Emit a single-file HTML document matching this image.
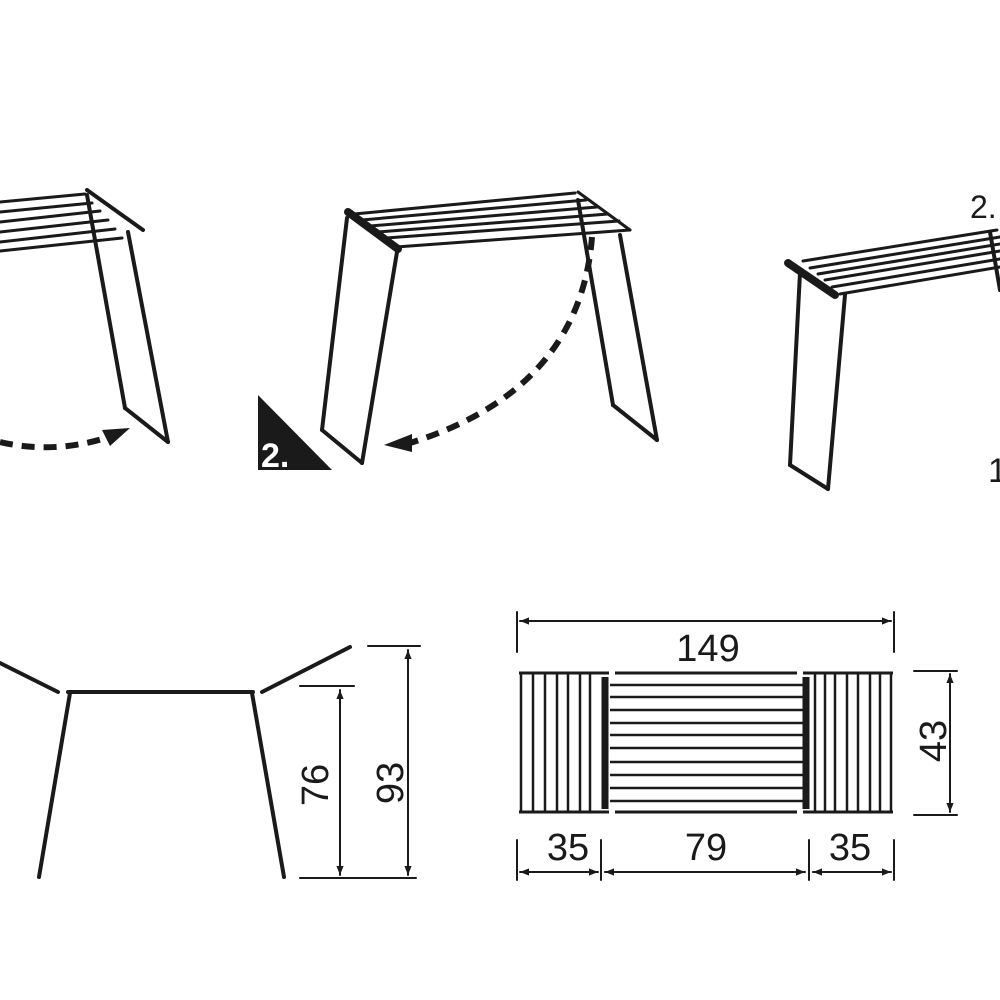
<!DOCTYPE html>
<html><head><meta charset="utf-8"><style>
html,body{margin:0;padding:0;background:#fff;}
svg{display:block;}
text{font-family:"Liberation Sans",sans-serif;fill:#1a1a1a;}
</style></head><body>
<svg width="1000" height="1000" viewBox="0 0 1000 1000" xmlns="http://www.w3.org/2000/svg">
<rect width="1000" height="1000" fill="#fff"/>
<defs>
<marker id="ah" viewBox="0 0 10 10" refX="10" refY="5" markerWidth="9" markerHeight="9" orient="auto-start-reverse" markerUnits="userSpaceOnUse"><path d="M0,1 L10,5 L0,9 Z" fill="#1a1a1a"/></marker>
</defs>
<g stroke="#1a1a1a" fill="none" stroke-linecap="round" stroke-linejoin="round">
<!-- Drawing 1 -->
<g stroke-width="3">
<line x1="0" y1="202" x2="85" y2="194"/>
<line x1="0" y1="212" x2="92" y2="203"/>
<line x1="0" y1="222" x2="100" y2="211"/>
<line x1="0" y1="232" x2="108" y2="220"/>
<line x1="0" y1="242" x2="115" y2="229"/>
<line x1="0" y1="251" x2="122" y2="238"/>
<line x1="87" y1="190" x2="143" y2="230" stroke-width="4"/>
<line x1="87" y1="195" x2="125" y2="408" stroke-width="4"/>
<line x1="125" y1="408" x2="168" y2="442" stroke-width="4"/>
<line x1="128" y1="232" x2="168" y2="442" stroke-width="4"/>
</g>
<path d="M0,442 Q55,455 112,436" stroke-width="6" stroke-dasharray="13,9" stroke-linecap="butt"/>
<polygon points="130,428 102,430 110,446" fill="#1a1a1a" stroke="none"/>
<!-- Drawing 2 -->
<g stroke-width="3">
<line x1="354" y1="214" x2="575" y2="193"/>
<line x1="362" y1="220" x2="586" y2="200"/>
<line x1="370" y1="226" x2="597" y2="207"/>
<line x1="378" y1="232" x2="608" y2="214"/>
<line x1="386" y1="238" x2="619" y2="221"/>
<line x1="396" y1="247" x2="630" y2="230"/>
<line x1="348" y1="212" x2="398" y2="249" stroke-width="8"/>
<line x1="578" y1="192" x2="630" y2="230" stroke-width="3"/>
<line x1="347" y1="218" x2="322" y2="430" stroke-width="4"/>
<line x1="322" y1="430" x2="362" y2="463" stroke-width="4"/>
<line x1="397" y1="252" x2="362" y2="463" stroke-width="4"/>
<line x1="578" y1="200" x2="613" y2="405" stroke-width="4"/>
<line x1="613" y1="405" x2="657" y2="440" stroke-width="4"/>
<line x1="620" y1="235" x2="657" y2="440" stroke-width="4"/>
</g>
<path d="M592,237 Q580,390 410,443" stroke-width="6" stroke-dasharray="13,9" stroke-linecap="butt"/>
<polygon points="384,445 412,434 412,452" fill="#1a1a1a" stroke="none"/>
<polygon points="258,395 258,470 332,470" fill="#1a1a1a" stroke="none"/>
<text x="261" y="467" font-size="34" font-weight="600" style="fill:#fff" stroke="none">2.</text>
<!-- Drawing 3 -->
<g stroke-width="3">
<line x1="803" y1="261" x2="997" y2="230"/>
<line x1="810" y1="268" x2="1000" y2="237"/>
<line x1="818" y1="274" x2="1000" y2="244"/>
<line x1="825" y1="280" x2="1000" y2="251"/>
<line x1="832" y1="287" x2="1000" y2="259"/>
<line x1="840" y1="294" x2="1000" y2="267"/>
<line x1="788" y1="263" x2="835" y2="295" stroke-width="8"/>
<line x1="800" y1="273" x2="790" y2="465" stroke-width="4"/>
<line x1="790" y1="465" x2="828" y2="489" stroke-width="4"/>
<line x1="845" y1="295" x2="828" y2="489" stroke-width="4"/>
<line x1="990" y1="232" x2="1000" y2="290" stroke-width="4"/>
</g>
<text x="970" y="218" font-size="32" stroke="none">2.</text>
<text x="988" y="482" font-size="34" stroke="none">1</text>
<!-- Bottom left side view -->
<g stroke-width="4">
<line x1="0" y1="663" x2="58" y2="692"/>
<line x1="68" y1="692" x2="253" y2="692"/>
<line x1="70" y1="693" x2="39" y2="877"/>
<line x1="252" y1="693" x2="284" y2="877"/>
<line x1="262" y1="692" x2="350" y2="647"/>
</g>
<g stroke-width="2">
<line x1="300" y1="686" x2="354" y2="686"/>
<line x1="368" y1="646" x2="420" y2="646"/>
<line x1="300" y1="878" x2="416" y2="878"/>
<line x1="340" y1="690" x2="340" y2="875" marker-start="url(#ah)" marker-end="url(#ah)"/>
<line x1="408" y1="650" x2="408" y2="875" marker-start="url(#ah)" marker-end="url(#ah)"/>
</g>
<!-- Bottom right top view -->
<g stroke-width="2">
<line x1="517" y1="612" x2="517" y2="652"/>
<line x1="894" y1="612" x2="894" y2="652"/>
<line x1="520" y1="621" x2="891" y2="621" marker-start="url(#ah)" marker-end="url(#ah)"/>
<line x1="914" y1="671" x2="957" y2="671"/>
<line x1="914" y1="815" x2="957" y2="815"/>
<line x1="950" y1="674" x2="950" y2="812" marker-start="url(#ah)" marker-end="url(#ah)"/>
<line x1="517" y1="840" x2="517" y2="880"/>
<line x1="601" y1="840" x2="601" y2="880"/>
<line x1="809" y1="840" x2="809" y2="880"/>
<line x1="894" y1="840" x2="894" y2="880"/>
<line x1="520" y1="872" x2="598" y2="872" marker-start="url(#ah)" marker-end="url(#ah)"/>
<line x1="605" y1="872" x2="805" y2="872" marker-start="url(#ah)" marker-end="url(#ah)"/>
<line x1="813" y1="872" x2="891" y2="872" marker-start="url(#ah)" marker-end="url(#ah)"/>
</g>
<g stroke-width="3" stroke-linecap="butt">
<line x1="519" y1="673" x2="609" y2="673"/>
<line x1="519" y1="812" x2="609" y2="812"/>
<line x1="615" y1="673" x2="797" y2="673"/>
<line x1="615" y1="812" x2="797" y2="812"/>
<line x1="803" y1="673" x2="893" y2="673"/>
<line x1="803" y1="812" x2="893" y2="812"/>
<g stroke-width="2.5">
<line x1="521" y1="673" x2="521" y2="812"/><line x1="533" y1="673" x2="533" y2="812"/>
<line x1="545" y1="673" x2="545" y2="812"/><line x1="557" y1="673" x2="557" y2="812"/>
<line x1="568" y1="673" x2="568" y2="812"/><line x1="580" y1="673" x2="580" y2="812"/>
<line x1="590" y1="673" x2="590" y2="812"/>
<line x1="815" y1="673" x2="815" y2="812"/><line x1="825" y1="673" x2="825" y2="812"/>
<line x1="835" y1="673" x2="835" y2="812"/><line x1="847" y1="673" x2="847" y2="812"/>
<line x1="858" y1="673" x2="858" y2="812"/><line x1="870" y1="673" x2="870" y2="812"/>
<line x1="880" y1="673" x2="880" y2="812"/><line x1="891" y1="673" x2="891" y2="812"/>
<line x1="610" y1="685" x2="803" y2="685"/><line x1="610" y1="697" x2="803" y2="697"/>
<line x1="610" y1="710" x2="803" y2="710"/><line x1="610" y1="723" x2="803" y2="723"/>
<line x1="610" y1="735" x2="803" y2="735"/><line x1="610" y1="748" x2="803" y2="748"/>
<line x1="610" y1="762" x2="803" y2="762"/><line x1="610" y1="775" x2="803" y2="775"/>
<line x1="610" y1="788" x2="803" y2="788"/><line x1="610" y1="801" x2="803" y2="801"/>
</g>
<line x1="605" y1="677" x2="605" y2="809" stroke-width="7"/>
<line x1="806" y1="677" x2="806" y2="809" stroke-width="7"/>
</g>
</g>
<g stroke="none" font-size="38">
<text x="708" y="661" text-anchor="middle">149</text>
<text x="568" y="860" text-anchor="middle">35</text>
<text x="706" y="860" text-anchor="middle">79</text>
<text x="850" y="860" text-anchor="middle">35</text>
<text transform="translate(946,741) rotate(-90)" text-anchor="middle">43</text>
<text transform="translate(328,785) rotate(-90)" text-anchor="middle">76</text>
<text transform="translate(403,783) rotate(-90)" text-anchor="middle">93</text>
</g>
</svg>
</body></html>
